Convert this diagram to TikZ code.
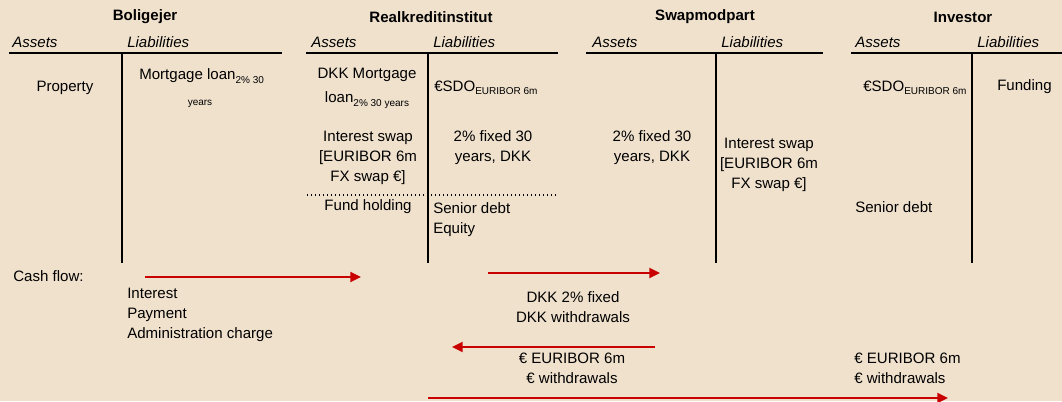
\documentclass[tikz,border=0pt]{standalone}
\usepackage{fontspec}
\setmainfont{Liberation Sans}
\usetikzlibrary{arrows.meta}
\definecolor{parchment}{RGB}{240, 225, 205}
\definecolor{flowred}{RGB}{200, 0, 0}
\newcommand{\lowtxt}[1]{{\fontsize{7.5}{8}\selectfont\raisebox{-2.5pt}{#1}}}

\begin{document}
\begin{tikzpicture}[x=0.75pt, y=-0.75pt, font=\fontsize{11.3}{15}\selectfont,
    title/.style={font=\fontsize{11.3}{15}\selectfont\bfseries, inner sep=0pt},
    side/.style={font=\fontsize{11.3}{15}\selectfont\itshape, anchor=west, inner sep=0pt},
    entry/.style={align=center, inner sep=0pt},
    lentry/.style={align=left, anchor=west, inner sep=0pt},
    tline/.style={line width=1.5pt},
    flow/.style={flowred, line width=1.6pt, -{Triangle[length=8pt, width=7.5pt]}}]
  \fill[parchment] (0,0) rectangle (1062,401);
  \useasboundingbox (0,0) rectangle (1062,401);

  % Boligejer
  \node[title] (bolTitle) at (145,17) {Boligejer};
  \node[side]  (bolA) at (12,42)  {Assets};
  \node[side]  (bolL) at (127,42) {Liabilities};
  \draw[tline] (9,53) -- (282,53);
  \draw[tline] (122,53) -- (122,263);
  \node[entry]  (bolProp) at (65,88) {Property};
  \node[lentry] (bolLoan) at (139,76) {Mortgage loan\lowtxt{2\% 30}};
  \node[entry]  (bolYears) at (200,104) {\fontsize{7.5}{8}\selectfont years};

  % Realkreditinstitut
  \node[title] (rkTitle) at (431,17) {Realkreditinstitut};
  \node[side]  (rkA) at (311,42) {Assets};
  \node[side]  (rkL) at (433,42) {Liabilities};
  \draw[tline] (306,53) -- (558,53);
  \draw[tline] (428,53) -- (428,263);
  \node[entry]  (rkLoanA) at (367,75)  {DKK Mortgage};
  \node[entry]  (rkLoanB) at (367,100) {loan\lowtxt{2\% 30 years}};
  \node[lentry] (rkSdo)   at (434,88)  {€SDO\lowtxt{EURIBOR 6m}};
  \node[entry]  (rkSwap)  at (368,158) {Interest swap\\{[}EURIBOR 6m\\FX swap €{]}};
  \node[entry]  (rkFixed) at (493,148) {2\% fixed 30\\years, DKK};
  \draw[line width=1pt, dotted] (307,195) -- (558,195);
  \node[entry]  (rkFund)  at (368,207) {Fund holding};
  \node[lentry] (rkDebt)  at (433,220) {Senior debt\\Equity};

  % Swapmodpart
  \node[title] (smTitle) at (705,17) {Swapmodpart};
  \node[side]  (smA) at (592,42) {Assets};
  \node[side]  (smL) at (721,42) {Liabilities};
  \draw[tline] (586,53) -- (823,53);
  \draw[tline] (716,53) -- (716,263);
  \node[entry] (smFixed) at (652,148) {2\% fixed 30\\years, DKK};
  \node[entry] (smSwap)  at (769,165) {Interest swap\\{[}EURIBOR 6m\\FX swap €{]}};

  % Investor
  \node[title] (invTitle) at (963,17) {Investor};
  \node[side]  (invA) at (855,42) {Assets};
  \node[side]  (invL) at (977,42) {Liabilities};
  \draw[tline] (851,53) -- (1062,53);
  \draw[tline] (972,53) -- (972,263);
  \node[lentry] (invSdo)  at (863,88)  {€SDO\lowtxt{EURIBOR 6m}};
  \node[lentry] (invFund) at (997,87)  {Funding};
  \node[lentry] (invDebt) at (855,207) {Senior debt};

  % cash flows
  \node[lentry] (cfLabel) at (13,276) {Cash flow:};
  \coordinate (cfA1) at (145,277);  \coordinate (cfA2) at (361,277);
  \coordinate (cfB1) at (488,273);  \coordinate (cfB2) at (660,273);
  \coordinate (cfC1) at (655,347);  \coordinate (cfC2) at (452,347);
  \coordinate (cfD1) at (428,398);  \coordinate (cfD2) at (948,398);
  \draw[flow] (cfA1) -- (cfA2);
  \draw[flow] (cfB1) -- (cfB2);
  \draw[flow] (cfC1) -- (cfC2);
  \draw[flow] (cfD1) -- (cfD2);
  \node[lentry] (cfBolig) at (127,315) {Interest\\Payment\\Administration charge};
  \node[entry]  (cfDkk)   at (573,307) {DKK 2\% fixed\\DKK withdrawals};
  \node[entry]  (cfEur)   at (572,368) {€ EURIBOR 6m\\€ withdrawals};
  \node[lentry] (cfInv)   at (854,368) {€ EURIBOR 6m\\€ withdrawals};
\end{tikzpicture}
\end{document}
